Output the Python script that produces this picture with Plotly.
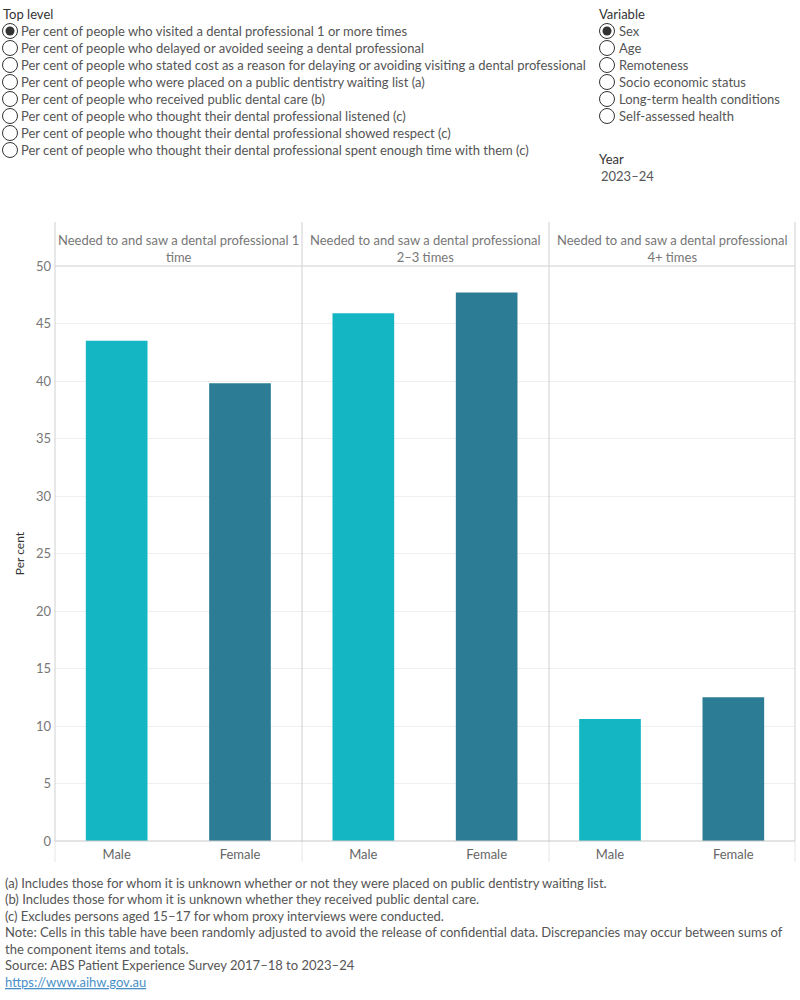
import plotly.graph_objects as go
from plotly.subplots import make_subplots

panels = ["Needed to and saw a dental professional 1<br>time",
          "Needed to and saw a dental professional<br>2–3 times",
          "Needed to and saw a dental professional<br>4+ times"]
sexes = ["Male", "Female"]
male_vals = [43.5, 45.9, 10.6]
female_vals = [39.8, 47.7, 12.5]
y_ticks = [0, 5, 10, 15, 20, 25, 30, 35, 40, 45, 50]

top_level = ["Per cent of people who visited a dental professional 1 or more times",
             "Per cent of people who delayed or avoided seeing a dental professional",
             "Per cent of people who stated cost as a reason for delaying or avoiding visiting a dental professional",
             "Per cent of people who were placed on a public dentistry waiting list (a)",
             "Per cent of people who received public dental care (b)",
             "Per cent of people who thought their dental professional listened (c)",
             "Per cent of people who thought their dental professional showed respect (c)",
             "Per cent of people who thought their dental professional spent enough time with them (c)"]
variables = ["Sex", "Age", "Remoteness", "Socio economic status",
             "Long-term health conditions", "Self-assessed health"]
footnotes = ["(a) Includes those for whom it is unknown whether or not they were placed on public dentistry waiting list.",
             "(b) Includes those for whom it is unknown whether they received public dental care.",
             "(c) Excludes persons aged 15–17 for whom proxy interviews were conducted.",
             "Note: Cells in this table have been randomly adjusted to avoid the release of confidential data. Discrepancies may occur between sums of",
             "the component items and totals.",
             "Source: ABS Patient Experience Survey 2017–18 to 2023–24"]

MALE_C = "#14b6c3"
FEMALE_C = "#2c7c96"
FONT = "Lato"
FS = 13

L, R, T, B = 55, 5, 266, 159
W, H = 800, 1000
PW, PH = W - L - R, H - T - B

def px(x):
    return (x - L) / PW

def py(y):
    return (H - B - y) / PH

fig = make_subplots(rows=1, cols=3, shared_yaxes=True, horizontal_spacing=0)
for i in range(3):
    fig.add_trace(go.Bar(x=sexes, y=[male_vals[i], female_vals[i]],
                         marker_color=[MALE_C, FEMALE_C], marker_line_width=0,
                         showlegend=False, hoverinfo="x+y"), row=1, col=i + 1)
    fig.update_xaxes(range=[-0.5, 1.5], showgrid=False, zeroline=False,
                     tickfont=dict(family=FONT, size=FS, color="#666"),
                     ticks="", showline=False, ticklabelstandoff=4, row=1, col=i + 1)

fig.update_yaxes(range=[0, 50], tickvals=y_ticks, showgrid=True,
                 gridcolor="#efefef", zeroline=False, showline=False,
                 tickfont=dict(family=FONT, size=FS, color="#777"), ticks="",
                 ticklabelstandoff=3)
fig.update_yaxes(title=dict(text="Per cent", font=dict(family=FONT, size=12, color="#333"),
                            standoff=8), row=1, col=1)

shapes = []
for xv in [55, 302, 549, 795]:
    shapes.append(dict(type="line", xref="paper", yref="paper", x0=px(xv), x1=px(xv),
                       y0=py(222), y1=py(841), line=dict(color="#d0d0d0", width=1)))
    shapes.append(dict(type="line", xref="paper", yref="paper", x0=px(xv), x1=px(xv),
                       y0=py(841), y1=py(862), line=dict(color="#e6e6e6", width=1)))
shapes.append(dict(type="line", xref="paper", yref="paper", x0=px(55), x1=px(795),
                   y0=py(266), y1=py(266), line=dict(color="#d0d0d0", width=1)))
shapes.append(dict(type="line", xref="paper", yref="paper", x0=px(55), x1=px(795),
                   y0=py(841), y1=py(841), line=dict(color="#c8c8c8", width=1)))

annotations = []
centers = [178.5, 425.5, 672]
for c, t in zip(centers, panels):
    annotations.append(dict(text=t, xref="paper", yref="paper", x=px(c), y=py(248.5),
                            xanchor="center", yanchor="middle", showarrow=False,
                            font=dict(family=FONT, size=FS, color="#777"), align="center"))

def radio(x_c, y_c, selected):
    r = 7.5
    shapes.append(dict(type="circle", xref="paper", yref="paper",
                       x0=px(x_c - r), x1=px(x_c + r), y0=py(y_c + r), y1=py(y_c - r),
                       line=dict(color="#333", width=1), fillcolor="white"))
    if selected:
        r2 = 4.5
        shapes.append(dict(type="circle", xref="paper", yref="paper",
                           x0=px(x_c - r2), x1=px(x_c + r2), y0=py(y_c + r2), y1=py(y_c - r2),
                           line=dict(color="#333", width=0), fillcolor="#333"))

def label(text, x, y, size=FS, color="#555"):
    annotations.append(dict(text=text, xref="paper", yref="paper", x=px(x), y=py(y),
                            xanchor="left", yanchor="middle", showarrow=False,
                            font=dict(family=FONT, size=size, color=color)))

label("Top level", 1, 14, color="#333")
for k, t in enumerate(top_level):
    yy = 31 + 17 * k
    radio(10, yy, k == 0)
    label(t, 19, yy)

label("Variable", 597, 14, color="#333")
for k, t in enumerate(variables):
    yy = 31 + 17 * k
    radio(607, yy, k == 0)
    label(t, 617, yy)

label("Year", 597, 159, color="#333")
label("2023–24", 599, 176)

for k, t in enumerate(footnotes):
    label(t, 3, 883 + 16.4 * k, color="#555")
label('<a href="https://www.aihw.gov.au" style="color:#4a90c8"><u>https://www.aihw.gov.au</u></a>',
      3, 982, color="#4a90c8")

fig.update_layout(width=W, height=H, margin=dict(l=L, r=R, t=T, b=B),
                  plot_bgcolor="white", paper_bgcolor="white",
                  bargap=0.5, shapes=shapes, annotations=annotations,
                  font=dict(family=FONT, size=FS, color="#555"))

fig.write_html("out.html")
